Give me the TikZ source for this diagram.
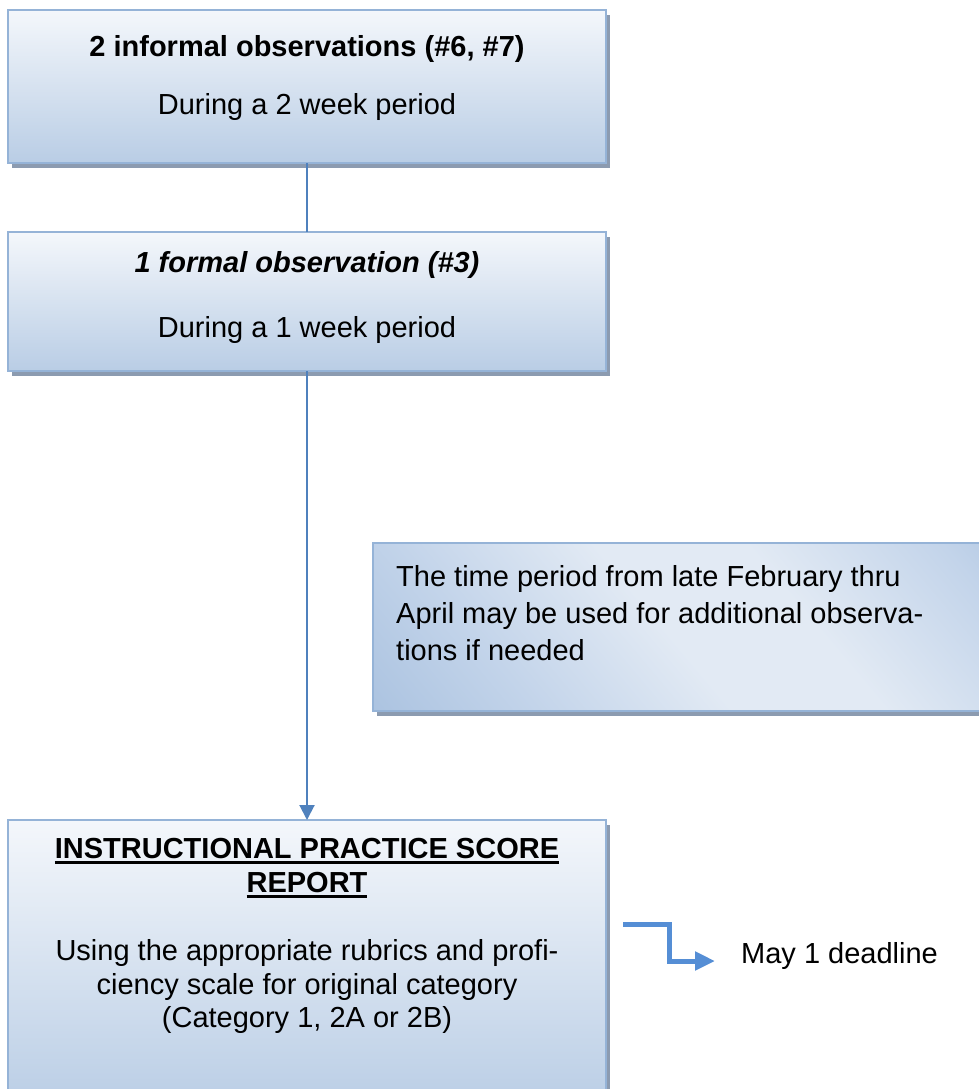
\documentclass[tikz,border=0pt]{standalone}
\usepackage{fontspec}
\setmainfont{Liberation Sans}
\usetikzlibrary{shadows,arrows.meta}
\definecolor{boxline}{HTML}{95B3D7}
\definecolor{boxtop}{HTML}{F4F7FB}
\definecolor{boxbot}{HTML}{B9CDE5}
\definecolor{shad}{HTML}{8C9BB0}
\definecolor{connc}{HTML}{4F81BD}
\definecolor{bendc}{HTML}{558ED5}
\definecolor{notedark}{HTML}{95B3D7}
\definecolor{notemid}{HTML}{C3D4EA}
\definecolor{notelight}{HTML}{E2EAF4}
\pgfdeclarehorizontalshading{noteshade}{100bp}{color(0bp)=(notedark); color(30bp)=(notemid); color(48bp)=(notelight); color(62bp)=(notelight); color(80bp)=(notemid); color(100bp)=(notedark)}
\newcommand{\myul}[1]{\setbox0\hbox{#1}\rlap{\rule[-5.5pt]{\wd0}{2.5pt}}\box0}
\begin{document}
\begin{tikzpicture}[x=1pt,y=-1pt,
  flowbox/.style={draw=boxline, line width=2pt, top color=boxtop, bottom color=boxbot,
    minimum width=598pt, anchor=north west, inner sep=0pt, outer sep=0pt,
    drop shadow={shadow xshift=4pt, shadow yshift=-5pt, fill=shad, opacity=1}},
  notebox/.style={draw=boxline, line width=2pt, shading=noteshade, shading angle=40,
    anchor=north west, inner sep=0pt, outer sep=0pt,
    drop shadow={shadow xshift=4pt, shadow yshift=-5pt, fill=shad, opacity=1}},
  txt/.style={font=\fontsize{29}{35}\selectfont, inner sep=0pt, anchor=base},
  ltxt/.style={txt, anchor=base west},
  connline/.style={draw=connc, line width=2pt},
  bendline/.style={draw=bendc, line width=5pt, line join=miter, -{Triangle[width=18pt,length=20pt]}}]
\useasboundingbox (0,0) rectangle (979,1089);
\clip (0,0) rectangle (979,1089);

\node[flowbox, minimum height=153pt] (box1) at (8,10) {};
\node[flowbox, minimum height=139pt] (box2) at (8,232) {};
\node[flowbox, minimum height=290pt] (box3) at (8,820) {};
\node[notebox, minimum width=625pt, minimum height=168pt] (note) at (373,543) {};

\node[txt] (b1t) at (307,57) {\bfseries 2 informal observations (\#6, \#7)};
\node[txt] (b1s) at (307,115) {During a 2 week period};
\node[txt] (b2t) at (307,272) {\bfseries\itshape 1 formal observation (\#3)};
\node[txt] (b2s) at (307,337) {During a 1 week period};

\node[ltxt] (n1) at (396,586) {The time period from late February thru};
\node[ltxt] (n2) at (396,623) {April may be used for additional observa-};
\node[ltxt] (n3) at (396,660) {tions if needed};

\node[txt] (r1) at (307,858) {\bfseries\myul{INSTRUCTIONAL PRACTICE SCORE}};
\node[txt] (r2) at (307,892) {\bfseries\myul{REPORT}};
\node[txt] (r3) at (307,960) {Using the appropriate rubrics and profi-};
\node[txt] (r4) at (307,994) {ciency scale for original category};
\node[txt] (r5) at (307,1027) {(Category 1, 2A or 2B)};

\node[ltxt] (may) at (741,963) {May 1 deadline};

\draw[connline] (box1.south) -- (box2.north);
\draw[connline, -{Triangle[width=15pt,length=15pt]}] (box2.south) -- (box3.north);
\coordinate (bstart) at (623,924);
\coordinate (bend) at (715,961);
\draw[bendline] (bstart) -- ++(46,0) |- (bend);
\end{tikzpicture}
\end{document}
